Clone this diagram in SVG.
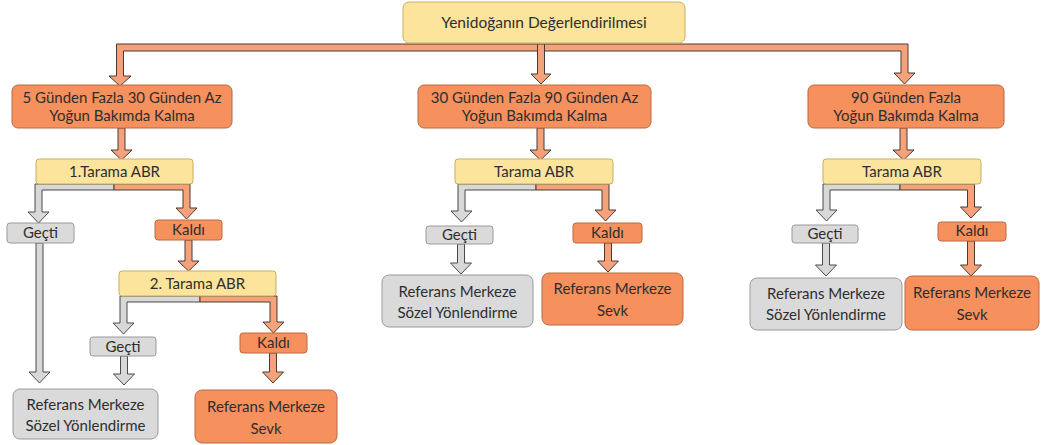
<svg xmlns="http://www.w3.org/2000/svg" width="1044" height="445" viewBox="0 0 1044 445">
<style>
  .y{fill:#FCE49C;stroke:#C9AE62;stroke-width:1}
  .o{fill:#F6905D;stroke:#B86A43;stroke-width:1}
  .g{fill:#DADADA;stroke:#9A9A9A;stroke-width:1}
  .ao{fill:#F5A27A;stroke:#4A3A33;stroke-width:1;stroke-linejoin:miter}
  .ag{fill:#D8D8D8;stroke:#4A4A4A;stroke-width:1;stroke-linejoin:miter}
  text{font-family:Lato,"Open Sans","Liberation Sans",sans-serif;font-size:15px;fill:#2e2e2e;text-anchor:middle}
  .big{font-size:15.5px}
</style>
<rect width="1044" height="445" fill="#ffffff"/>

<g id="connectors">
  <path class="ao" d="M116.5,44 H908 V73 H915 L904.5,84 L894,73 H901 V51 H544.5 V74 H551 L541,84 L531,74 H537.5 V51 H123.5 V76 H131 L120,86 L109,76 H116.5 Z"/>
  <path d="M537.5,44 V51 M544.5,44 V51" stroke="#4A3A33" stroke-width="1"/>
  <path class="ao" d="M118,128 H125 V150 H132 L121.5,160 L111,150 H118 Z"/>
  <path class="ao" d="M537,128 H544 V150 H551 L540.5,160 L530,150 H537 Z"/>
  <path class="ao" d="M900,128 H907 V150 H914 L903.5,160 L893,150 H900 Z"/>
  <path class="ag" d="M35,184 H114 V190 H42 V212 H49 L38.5,223 L28,212 H35 Z"/>
  <path class="ao" d="M114,184 H190 V208 H197 L186.5,219 L176,208 H183 V190 H114 Z"/>
  <path class="ag" d="M36,243 H43 V372 H50 L39.5,383 L29,372 H36 Z"/>
  <path class="ao" d="M185,240 H192 V261 H199 L188.5,271 L178,261 H185 Z"/>
  <path class="ag" d="M120,296 H200 V302 H127 V323 H134 L123.5,334 L113,323 H120 Z"/>
  <path class="ao" d="M200,296 H277 V322 H284 L273.5,333 L263,322 H270 V302 H200 Z"/>
  <path class="ag" d="M120.5,356 H127.5 V374 H134.5 L124,385 L113.5,374 H120.5 Z"/>
  <path class="ao" d="M269.5,353 H276.5 V372 H283.5 L273,383 L262.5,372 H269.5 Z"/>
  <path class="ag" d="M458,184 H536 V190 H465 V211 H472 L461.5,222 L451,211 H458 Z"/>
  <path class="ao" d="M536,184 H609 V210 H616 L605.5,221 L595,210 H602 V190 H536 Z"/>
  <path class="ag" d="M457.5,244 H464.5 V263 H471.5 L461,274 L450.5,263 H457.5 Z"/>
  <path class="ao" d="M604.5,243 H611.5 V261 H618.5 L608,272 L597.5,261 H604.5 Z"/>
  <path class="ag" d="M823,184 H900 V190 H830 V210 H837 L826.5,221 L816,210 H823 Z"/>
  <path class="ao" d="M900,184 H974.5 V207 H981.5 L971,218 L960.5,207 H967.5 V190 H900 Z"/>
  <path class="ag" d="M822.5,243 H829.5 V265 H836.5 L826,276 L815.5,265 H822.5 Z"/>
  <path class="ao" d="M967.5,241 H974.5 V265 H981.5 L971,276 L960.5,265 H967.5 Z"/>
</g>

<g id="n-root"><rect class="y" x="403" y="2" width="282" height="41" rx="6"/><text class="big" x="544" y="28">Yenidoğanın Değerlendirilmesi</text></g>

<g id="n-l1"><rect class="o" x="12" y="85" width="220" height="43" rx="6"/><text x="122" y="103">5 Günden Fazla 30 Günden Az</text><text x="122" y="121">Yoğun Bakımda Kalma</text></g>
<g id="n-m1"><rect class="o" x="418" y="85" width="233" height="43" rx="6"/><text x="534.5" y="103">30 Günden Fazla 90 Günden Az</text><text x="534.5" y="121">Yoğun Bakımda Kalma</text></g>
<g id="n-r1"><rect class="o" x="808" y="85" width="196" height="43" rx="6"/><text x="906" y="103">90 Günden Fazla</text><text x="906" y="121">Yoğun Bakımda Kalma</text></g>

<g id="n-lt1"><rect class="y" x="36" y="159" width="157" height="25" rx="3"/><text x="114.5" y="177">1.Tarama ABR</text></g>
<g id="n-mt"><rect class="y" x="455" y="159" width="158" height="25" rx="3"/><text x="534" y="177">Tarama ABR</text></g>
<g id="n-rt"><rect class="y" x="823" y="159" width="158" height="25" rx="3"/><text x="902" y="177">Tarama ABR</text></g>

<g id="n-lg1"><rect class="g" x="7" y="223" width="67" height="20" rx="3"/><text x="40.5" y="238">Geçti</text></g>
<g id="n-lk1"><rect class="o" x="155" y="220" width="67" height="20" rx="3"/><text x="188.5" y="235">Kaldı</text></g>
<g id="n-lt2"><rect class="y" x="119" y="271" width="157" height="25" rx="3"/><text x="197.5" y="289">2. Tarama ABR</text></g>
<g id="n-lg2"><rect class="g" x="90" y="337" width="66" height="19" rx="3"/><text x="123" y="352">Geçti</text></g>
<g id="n-lk2"><rect class="o" x="240" y="333" width="67" height="20" rx="3"/><text x="273.5" y="348">Kaldı</text></g>
<g id="n-lrg"><rect class="g" x="13" y="389" width="145" height="50" rx="7"/><text x="85.5" y="410">Referans Merkeze</text><text x="85.5" y="431">Sözel Yönlendirme</text></g>
<g id="n-lro"><rect class="o" x="195" y="390" width="142" height="53" rx="7"/><text x="266" y="412">Referans Merkeze</text><text x="266" y="434">Sevk</text></g>

<g id="n-mg"><rect class="g" x="426" y="226" width="67" height="18" rx="3"/><text x="459.5" y="240">Geçti</text></g>
<g id="n-mk"><rect class="o" x="573" y="223" width="69" height="20" rx="3"/><text x="607.5" y="238">Kaldı</text></g>
<g id="n-mrg"><rect class="g" x="382" y="275" width="151" height="52" rx="7"/><text x="457.5" y="297">Referans Merkeze</text><text x="457.5" y="318">Sözel Yönlendirme</text></g>
<g id="n-mro"><rect class="o" x="542" y="273" width="141" height="52" rx="7"/><text x="612.5" y="294">Referans Merkeze</text><text x="612.5" y="316">Sevk</text></g>

<g id="n-rg"><rect class="g" x="792" y="225" width="66" height="18" rx="3"/><text x="825" y="239">Geçti</text></g>
<g id="n-rk"><rect class="o" x="938" y="222" width="68" height="19" rx="3"/><text x="972" y="236">Kaldı</text></g>
<g id="n-rrg"><rect class="g" x="750" y="278" width="152" height="52" rx="7"/><text x="826" y="299">Referans Merkeze</text><text x="826" y="320">Sözel Yönlendirme</text></g>
<g id="n-rro"><rect class="o" x="905" y="276" width="134" height="54" rx="7"/><text x="972" y="298">Referans Merkeze</text><text x="972" y="320">Sevk</text></g>
</svg>
